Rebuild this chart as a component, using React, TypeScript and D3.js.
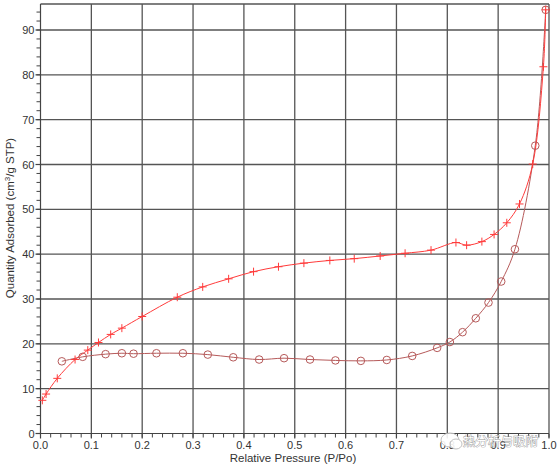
import React from "react";
import * as d3 from "d3";

const adsX = [0.0036, 0.011, 0.033, 0.068, 0.093, 0.114, 0.138, 0.160, 0.200, 0.269, 0.319, 0.370, 0.419, 0.468, 0.518, 0.569, 0.617, 0.668, 0.717, 0.768, 0.817, 0.838, 0.868, 0.892, 0.917, 0.942, 0.968, 0.989, 0.9935];
const adsY = [7.4, 8.8, 12.3, 16.5, 18.6, 20.3, 22.1, 23.5, 26.1, 30.4, 32.7, 34.5, 36.1, 37.2, 38.0, 38.6, 39.0, 39.6, 40.2, 40.9, 42.6, 42.0, 42.8, 44.4, 47.0, 51.2, 60.1, 81.8, 94.5];

const desX = [0.9935, 0.973, 0.933, 0.906, 0.881, 0.856, 0.830, 0.805, 0.780, 0.731, 0.681, 0.630, 0.580, 0.530, 0.479, 0.430, 0.379, 0.329, 0.280, 0.228, 0.183, 0.160, 0.128, 0.083, 0.042];
const desY = [94.5, 64.2, 41.1, 33.9, 29.2, 25.7, 22.6, 20.4, 19.1, 17.3, 16.4, 16.2, 16.3, 16.5, 16.8, 16.5, 17.0, 17.6, 17.9, 17.9, 17.8, 17.9, 17.7, 17.1, 16.1];

const xTicks = [0, 0.1, 0.2, 0.3, 0.4, 0.5, 0.6, 0.7, 0.8, 0.9, 1.0];
const yTicks = [0, 10, 20, 30, 40, 50, 60, 70, 80, 90];

const W = 558, H = 467;
const L = 40.5, R = 549, T = 4, B = 433.5;

export default function App() {
  const x = d3.scaleLinear().domain([0, 1]).range([L, R]);
  const y = d3.scaleLinear().domain([0, 90]).range([B, 30]);
  const yTop = y.invert(T);

  const ads = adsX.map((v, i) => [v, adsY[i]] as [number, number]);
  const des = desX.map((v, i) => [v, desY[i]] as [number, number]);
  const line = d3.line<[number, number]>().x(d => x(d[0])).y(d => y(d[1])).curve(d3.curveCatmullRom.alpha(0.5));

  const xMinor = d3.range(0, 1.0001, 0.02);
  const yMinor = d3.range(0, yTop, 2);
  const gridCol = "#555";
  const adsCol = "#ff3b3b";
  const desCol = "#b65a5a";
  const font = "'Liberation Sans', Arial, sans-serif";

  return (
    <svg width={W} height={H} style={{ position: "absolute", left: 0, top: 0, background: "#fff" }}>
      {xTicks.slice(1).map(t => (
        <line key={"gx" + t} x1={x(t)} x2={x(t)} y1={T} y2={B} stroke={gridCol} strokeWidth={1.3} />
      ))}
      {yTicks.slice(1).map(t => (
        <line key={"gy" + t} x1={L} x2={R} y1={y(t)} y2={y(t)} stroke={gridCol} strokeWidth={1.3} />
      ))}
      <line x1={L} x2={R} y1={T} y2={T} stroke={gridCol} strokeWidth={1.3} />
      <line x1={L} x2={L} y1={T} y2={B + 0.5} stroke="#444" strokeWidth={1.2} />
      <line x1={L} x2={R} y1={B} y2={B} stroke="#444" strokeWidth={1.2} />
      {xMinor.map(t => (
        <line key={"mx" + t} x1={x(t)} x2={x(t)} y1={B} y2={B + 4} stroke="#444" strokeWidth={1} />
      ))}
      {yMinor.map(t => (
        <line key={"my" + t} x1={L - 4} x2={L} y1={y(t)} y2={y(t)} stroke="#444" strokeWidth={1} />
      ))}
      {xTicks.map(t => (
        <line key={"tx" + t} x1={x(t)} x2={x(t)} y1={B} y2={B + 5} stroke="#444" strokeWidth={1.2} />
      ))}
      {yTicks.map(t => (
        <line key={"ty" + t} x1={L - 5} x2={L} y1={y(t)} y2={y(t)} stroke="#444" strokeWidth={1.2} />
      ))}
      {xTicks.map(t => (
        <text key={"lx" + t} x={x(t)} y={B + 15} fontSize={11} fontFamily={font} fill="#333" textAnchor="middle">{t.toFixed(1)}</text>
      ))}
      {yTicks.map(t => (
        <text key={"ly" + t} x={L - 6} y={y(t) + 4} fontSize={11} fontFamily={font} fill="#333" textAnchor="end">{t}</text>
      ))}
      <text x={293} y={462} fontSize={11.5} fontFamily={font} fill="#333" textAnchor="middle">Relative Pressure (P/Po)</text>
      <text transform={`translate(14,${218}) rotate(-90)`} fontSize={11.5} fontFamily={font} fill="#333" textAnchor="middle">
        Quantity Adsorbed (cm<tspan fontSize={8} dy={-4}>3</tspan><tspan dy={4}>/g STP)</tspan>
      </text>
      <path d={line(des) || ""} fill="none" stroke={desCol} strokeWidth={1} />
      <path d={line(ads) || ""} fill="none" stroke={adsCol} strokeWidth={1} />
      {des.map((d, i) => (
        <circle key={"dc" + i} cx={x(d[0])} cy={y(d[1])} r={3.8} fill="none" stroke={desCol} strokeWidth={1} />
      ))}
      {ads.map((d, i) => (
        <g key={"ap" + i} stroke={adsCol} strokeWidth={1}>
          <line x1={x(d[0]) - 4} x2={x(d[0]) + 4} y1={y(d[1])} y2={y(d[1])} />
          <line x1={x(d[0])} x2={x(d[0])} y1={y(d[1]) - 4} y2={y(d[1]) + 4} />
        </g>
      ))}
      <g opacity={0.9}>
        <ellipse cx={450} cy={440} rx={9} ry={7} fill="#fff" stroke="#bbb" strokeWidth={1} />
        <ellipse cx={456} cy={444} rx={6} ry={5} fill="#fff" stroke="#bbb" strokeWidth={1} />
        <text x={463} y={446} fontSize={12.5} fontFamily="'Noto Sans CJK SC', sans-serif" fill="#fff" stroke="#888" strokeWidth={0.8} paintOrder="stroke">热分析与吸附</text>
      </g>
    </svg>
  );
}
